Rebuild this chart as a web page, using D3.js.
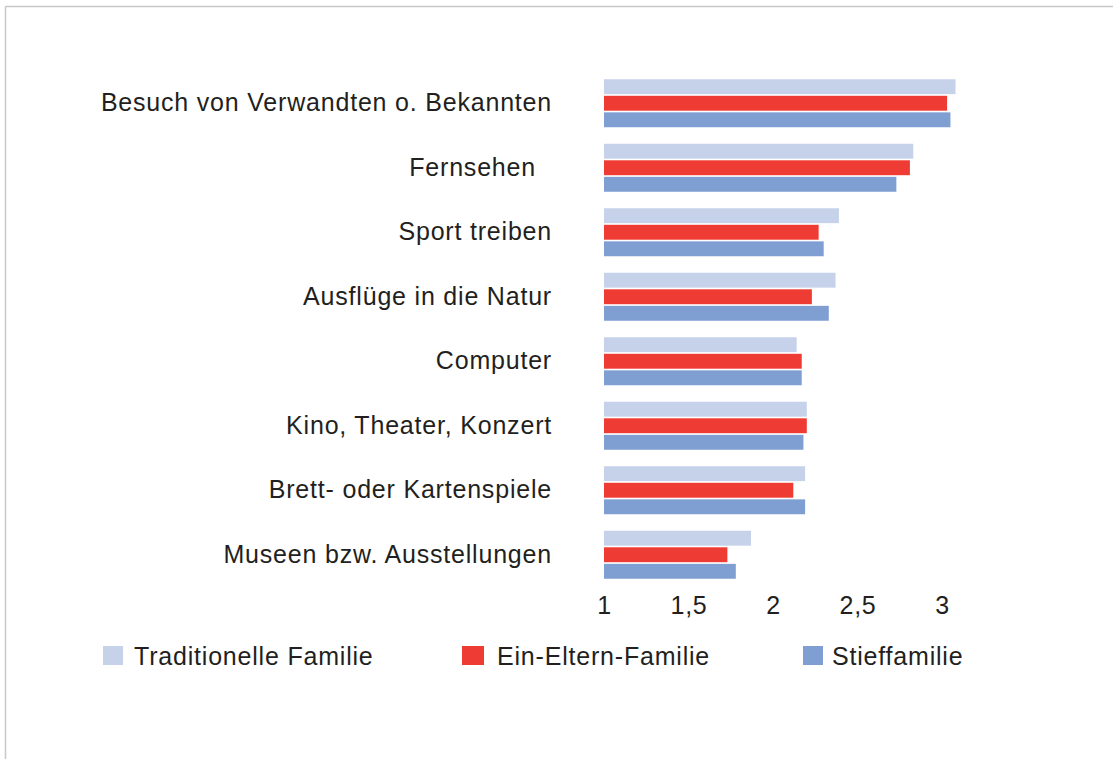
<!DOCTYPE html>
<html>
<head>
<meta charset="utf-8">
<script src="https://cdn.jsdelivr.net/npm/d3@7"></script>
<style>
  body { margin: 0; background: #fff; }
  text { font-family: "Liberation Sans", Arial, sans-serif; fill: #231f20; font-size: 25px; letter-spacing: 0.8px; }
</style>
</head>
<body>
<div id="chart"></div>
<script>
const w = 1113, h = 759

// data
const categories = [
  "Besuch von Verwandten o. Bekannten",
  "Fernsehen",
  "Sport treiben",
  "Ausflüge in die Natur",
  "Computer",
  "Kino, Theater, Konzert",
  "Brett- oder Kartenspiele",
  "Museen bzw. Ausstellungen"
]
const seriesNames = ["Traditionelle Familie", "Ein-Eltern-Familie", "Stieffamilie"]
const traditionell = [3.08, 2.83, 2.39, 2.37, 2.14, 2.20, 2.19, 1.87]
const einEltern    = [3.03, 2.81, 2.27, 2.23, 2.17, 2.20, 2.12, 1.73]
const stief        = [3.05, 2.73, 2.30, 2.33, 2.17, 2.18, 2.19, 1.78]
const xTicks = [1, 1.5, 2, 2.5, 3]
const colors = ["#c6d2ea", "#ee3b33", "#7f9fd3"]

const values = [traditionell, einEltern, stief]

var svg = d3.select("#chart").append("svg")
  .attr("width", w)
  .attr("height", h)

// frame (only top and left edge are inside the picture)
svg.append("line").attr("x1", 5.5).attr("x2", w).attr("y1", 6.5).attr("y2", 6.5)
  .attr("stroke", "#c8c8c8").attr("stroke-width", 1.5)
svg.append("line").attr("x1", 5.5).attr("x2", 5.5).attr("y1", 6.5).attr("y2", h)
  .attr("stroke", "#c8c8c8").attr("stroke-width", 1.5)

var xScale = d3.scaleLinear().domain([1, 3]).range([604, 942])

var yScale = d3.scaleBand()
  .domain(categories)
  .range([71, 587])
  .paddingInner(0)

var inner = d3.scaleBand()
  .domain(d3.range(3))
  .range([0, 48])
  .paddingInner(0.1)

var groupOffset = (yScale.bandwidth() - 48) / 2

var groups = svg.selectAll("g.cat")
  .data(categories)
  .enter().append("g")
  .attr("class", "cat")
  .attr("transform", d => "translate(0," + (yScale(d) + groupOffset) + ")")

groups.each(function (cat, ci) {
  d3.select(this).selectAll("rect")
    .data(values.map((s, si) => ({ v: s[ci], si: si })))
    .enter().append("rect")
    .attr("x", xScale(1))
    .attr("y", d => inner(d.si))
    .attr("width", d => xScale(d.v) - xScale(1))
    .attr("height", inner.bandwidth())
    .attr("fill", d => colors[d.si])
})

// category labels ("Fernsehen" has trailing blanks in the original)
svg.selectAll("text.cat")
  .data(categories)
  .enter().append("text")
  .attr("class", "cat")
  .attr("x", (d, i) => i === 1 ? 536 : 552)
  .attr("y", d => yScale(d) + yScale.bandwidth() / 2 - 1)
  .attr("dy", "0.35em")
  .attr("text-anchor", "end")
  .text(d => d)

// x axis labels only
var xAxis = d3.axisBottom(xScale)
  .tickValues(xTicks)
  .tickSize(0)
  .tickFormat(d => String(d).replace(".", ","))

var ax = svg.append("g")
  .attr("transform", "translate(0,593)")
  .call(xAxis)
ax.select(".domain").remove()
ax.selectAll("text")
  .style("font-size", "25px")
  .style("font-family", "'Liberation Sans', Arial, sans-serif")
  .style("letter-spacing", "0.8px")
  .attr("fill", "#231f20")

// legend
var legendX = [103, 462, 803]
var legendTextX = [134, 497, 832]
var leg = svg.selectAll("g.leg")
  .data(seriesNames)
  .enter().append("g")
  .attr("class", "leg")
leg.append("rect")
  .attr("x", (d, i) => legendX[i])
  .attr("y", 646)
  .attr("width", (d, i) => i === 1 ? 22 : 20).attr("height", 19)
  .attr("fill", (d, i) => colors[i])
leg.append("text")
  .attr("x", (d, i) => legendTextX[i])
  .attr("y", 656)
  .attr("dy", "0.35em")
  .text(d => d)
</script>
</body>
</html>
